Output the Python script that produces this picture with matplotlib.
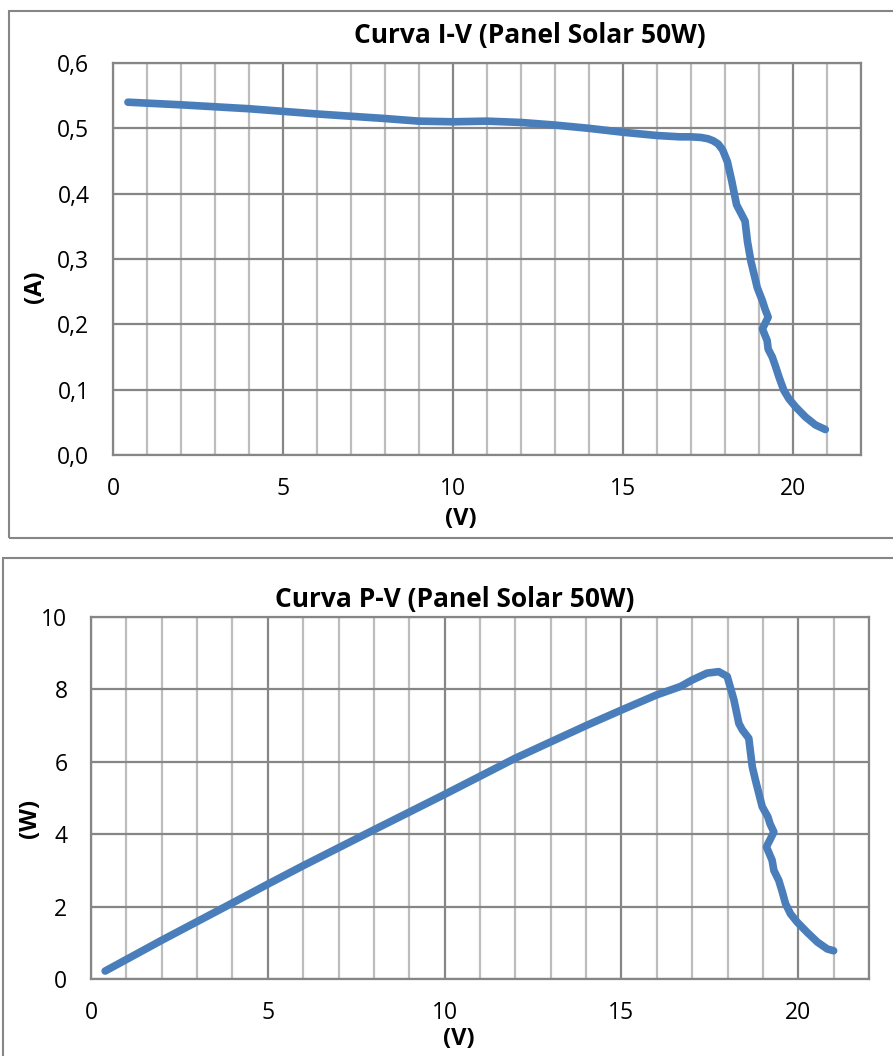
import matplotlib
matplotlib.use('Agg')
import matplotlib.pyplot as plt
from matplotlib.patches import Rectangle
from matplotlib.ticker import MultipleLocator, FuncFormatter

# I-V curve (V, A)
V_iv = [0.44, 2, 4, 6, 8, 9, 10, 11, 12, 13, 14, 15, 16, 16.67, 17, 17.3,
        17.5, 17.65, 17.8, 17.93, 18.07, 18.2, 18.34, 18.46, 18.59, 18.66,
        18.76, 18.95, 19.1, 19.18, 19.27, 19.1, 19.24, 19.27, 19.39, 19.49,
        19.59, 19.73, 19.88, 20.07, 20.37, 20.66, 20.95]
I_iv = [0.540, 0.536, 0.530, 0.522, 0.515, 0.511, 0.510, 0.511, 0.509, 0.505,
        0.500, 0.494, 0.489, 0.487, 0.487, 0.486, 0.484, 0.481, 0.476, 0.467,
        0.449, 0.419, 0.383, 0.371, 0.358, 0.327, 0.297, 0.256, 0.236, 0.223,
        0.211, 0.193, 0.175, 0.162, 0.150, 0.135, 0.119, 0.099, 0.086, 0.074,
        0.058, 0.046, 0.039]

# P-V curve (V, W)
V_pv = [0.4, 2, 4, 5, 6, 8, 10, 12, 14, 15, 16, 16.67, 17, 17.42, 17.75,
        17.99, 18.18, 18.32, 18.42, 18.6, 18.7, 18.79, 18.98, 19.14, 19.2,
        19.31, 19.1, 19.26, 19.31, 19.45, 19.55, 19.64, 19.78, 19.97, 20.25,
        20.54, 20.82, 21.0]
P_pv = [0.22, 1.07, 2.1, 2.62, 3.13, 4.12, 5.1, 6.1, 7.0, 7.43, 7.85, 8.08,
        8.26, 8.45, 8.49, 8.36, 7.71, 7.06, 6.88, 6.65, 5.86, 5.49, 4.76, 4.48,
        4.29, 4.06, 3.65, 3.28, 3.0, 2.72, 2.4, 2.08, 1.8, 1.57, 1.29, 1.02,
        0.83, 0.78]

plt.rcParams['font.family'] = ['Open Sans', 'DejaVu Sans']

W, H = 893, 1056
fig = plt.figure(figsize=(W / 100, H / 100), dpi=100)

blue = '#4A7EBB'
dark = '#868686'
light = '#BDBDBD'


def box(x0, y0, x1, y1):
    fig.patches.append(Rectangle((x0 / W, 1 - y1 / H), (x1 - x0) / W, (y1 - y0) / H,
                                 transform=fig.transFigure, fill=False,
                                 edgecolor=dark, linewidth=1.5))


def make_ax(left, top, right, bottom):
    return fig.add_axes([left / W, 1 - bottom / H, (right - left) / W, (bottom - top) / H])


def style(ax, ymax, ystep, fmt):
    ax.set_xlim(0, 22)
    ax.set_ylim(0, ymax)
    ax.xaxis.set_major_locator(MultipleLocator(5))
    ax.xaxis.set_minor_locator(MultipleLocator(1))
    ax.yaxis.set_major_locator(MultipleLocator(ystep))
    ax.yaxis.set_major_formatter(FuncFormatter(fmt))
    ax.grid(which='minor', axis='x', color=light, linewidth=1.6)
    ax.grid(which='major', axis='x', color=dark, linewidth=1.6)
    ax.grid(which='major', axis='y', color=dark, linewidth=1.6)
    ax.set_axisbelow(True)
    for s in ax.spines.values():
        s.set_color(dark)
        s.set_linewidth(1.6)
    ax.tick_params(which='both', length=0, labelsize=16.5)
    ax.tick_params(axis='x', pad=16)
    ax.tick_params(axis='y', pad=17)


# top chart
box(9, 11, 905, 538)
ax1 = make_ax(113, 63, 861, 455)
style(ax1, 0.6, 0.1, lambda v, p: ('%.1f' % v).replace('.', ','))
ax1.plot(V_iv, I_iv, color=blue, linewidth=5.5, solid_capstyle='round', solid_joinstyle='round')
fig.text(530 / W, 1 - 36 / H, 'Curva I-V (Panel Solar 50W)', ha='center', va='center',
         fontsize=19, fontweight='bold')
fig.text(461 / W, 1 - 519 / H, '(V)', ha='center', va='center', fontsize=17, fontweight='bold')
fig.text(35 / W, 1 - 287 / H, '(A)', ha='center', va='center', fontsize=17, fontweight='bold',
         rotation=90)

# bottom chart
box(3, 558, 905, 1070)
ax2 = make_ax(91, 617, 869, 979)
style(ax2, 10, 2, lambda v, p: '%d' % v)
ax2.plot(V_pv, P_pv, color=blue, linewidth=5.5, solid_capstyle='round', solid_joinstyle='round')
fig.text(455 / W, 1 - 600 / H, 'Curva P-V (Panel Solar 50W)', ha='center', va='center',
         fontsize=19, fontweight='bold')
fig.text(459 / W, 1 - 1039 / H, '(V)', ha='center', va='center', fontsize=17, fontweight='bold')
fig.text(30 / W, 1 - 818 / H, '(W)', ha='center', va='center', fontsize=17, fontweight='bold',
         rotation=90)

fig.savefig('out.png', dpi=100)
